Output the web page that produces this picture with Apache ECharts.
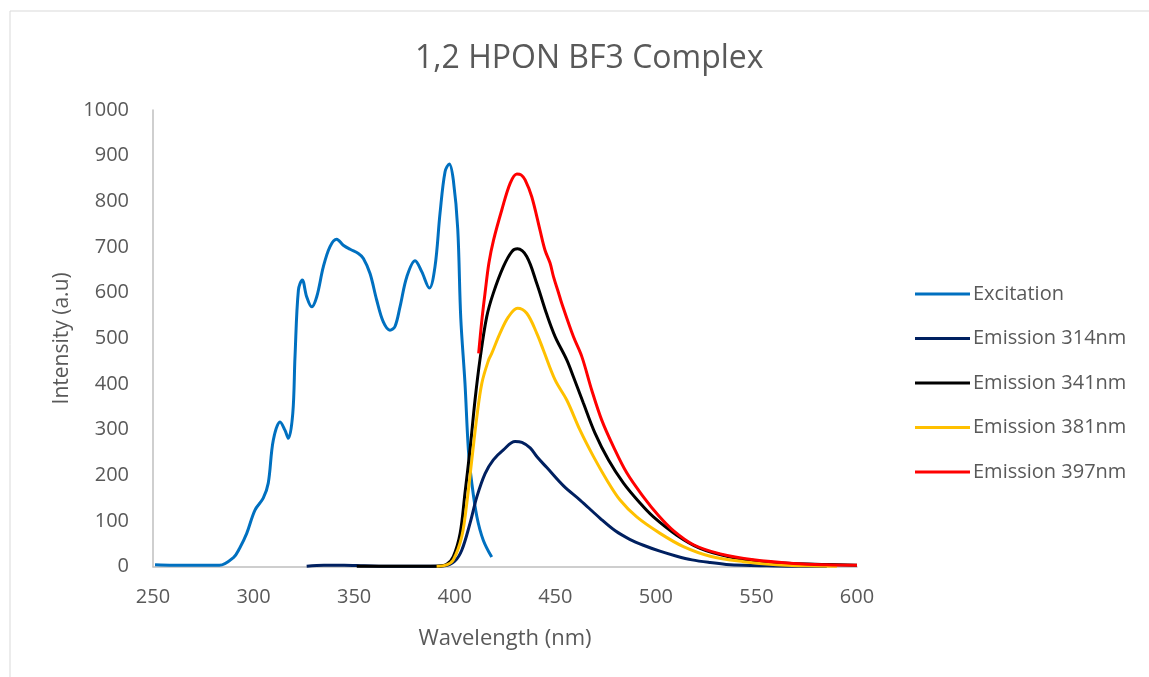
<!DOCTYPE html>
<html>
<head>
<meta charset="utf-8">
<title>1,2 HPON BF3 Complex</title>
<script src="https://cdn.jsdelivr.net/npm/echarts@6/dist/echarts.min.js"></script>
<style>
  html, body { margin: 0; padding: 0; background: #fff; }
  #chart { width: 1149px; height: 677px; }
</style>
</head>
<body>
<div id="chart"></div>
<script>
// Wavelength (nm) / intensity (a.u.) pairs for each spectrum
const excitation = [
  [251, 4], [260, 3], [270, 3], [283, 3], [290, 20], [293, 40], [296.6, 73],
  [300.7, 124], [304.8, 150], [307.3, 183], [309.8, 277], [313.2, 317],
  [315.6, 299], [317.3, 281], [319.5, 336], [320.6, 460], [322.3, 606],
  [324.2, 628], [326.4, 591], [328.9, 569], [331.4, 591], [334.7, 657],
  [338, 701], [341.3, 717], [344.6, 704], [348, 695], [352.1, 686],
  [354.6, 675], [357.9, 642], [361.2, 584], [364.5, 536], [367.8, 518],
  [370.3, 526], [372.8, 569], [376.2, 635], [380.3, 670], [383.6, 646],
  [387.4, 610], [390.2, 657], [392.7, 774], [395.2, 865], [397.3, 882],
  [399.3, 847], [401.5, 740], [403, 545], [405.1, 402], [406.8, 256],
  [408.5, 183], [411, 110], [414.2, 58], [418.4, 21]
];

const emission314 = [
  [326.4, 1], [335, 3], [345, 3], [355, 2], [370, 1], [385, 1], [395, 2],
  [400, 12], [403.5, 36], [407.6, 95], [411, 153], [415.1, 204], [419.2, 234],
  [424.2, 256], [430, 274], [433.4, 272], [437.5, 260], [441, 240],
  [445.8, 217], [454.1, 177], [462.3, 146], [472.3, 106], [480, 78],
  [487, 60], [493.8, 47], [502, 34], [510.4, 23], [518, 15], [527, 9],
  [535, 5], [543.5, 3], [555, 2], [570, 1], [585, 1]
];

const emission341 = [
  [351.3, 1], [365, 1], [380, 1], [391, 1], [396, 5], [399.3, 22],
  [402.7, 73], [405.1, 161], [407.6, 256], [410.1, 365], [412.6, 455],
  [415.9, 547], [419.2, 599], [424.2, 657], [428.4, 690], [431.2, 696],
  [435.8, 679], [440.8, 620], [445.8, 552], [449.9, 504], [455.7, 453],
  [459, 416], [464, 358], [469.8, 292], [476.4, 234], [483.9, 183],
  [492.2, 139], [498.8, 109], [510.4, 69], [522, 40], [535.3, 23],
  [551.8, 12], [568.4, 7], [585, 5], [600, 3]
];

const emission381 = [
  [391, 1], [396, 4], [399.3, 15], [403.5, 66], [406, 139], [408.5, 234],
  [411, 328], [413.5, 402], [416.8, 452], [418.4, 467], [422.5, 511],
  [426.7, 547], [431.2, 566], [435.8, 555], [440.8, 511], [444.1, 474],
  [449.9, 409], [455.7, 365], [462.3, 299], [469, 241], [475.6, 190],
  [482.2, 146], [490.5, 109], [502.1, 73], [513.7, 44], [527, 23],
  [543.5, 11], [560, 4], [575, 2], [590, 1]
];

const emission397 = [
  [411.9, 467], [413.5, 540], [415.1, 600], [417, 665], [419.3, 715],
  [423.4, 781], [427.6, 840], [430.9, 860], [433, 858], [435, 847],
  [438.3, 810], [442.4, 737], [444.9, 693], [447.4, 665], [449.1, 635],
  [451.6, 600], [453.2, 577], [459, 504], [463.2, 460], [468.1, 387],
  [473.1, 321], [478.9, 263], [485.6, 205], [493.8, 153], [501.3, 112],
  [508.7, 79], [518.7, 48], [532, 28], [548.5, 15], [568.4, 7], [585, 4],
  [600, 3]
];

const seriesNames = ['Excitation', 'Emission 314nm', 'Emission 341nm', 'Emission 381nm', 'Emission 397nm'];
const seriesColors = ['#0070C0', '#002060', '#000000', '#FFC000', '#FF0000'];
const seriesData = [excitation, emission314, emission341, emission381, emission397];

const textColor = '#595959';
const fontFamily = '"Open Sans", "Noto Sans", sans-serif';

const chart = echarts.init(document.getElementById('chart'));

chart.setOption({
  backgroundColor: '#ffffff',
  animation: false,
  textStyle: { fontFamily: fontFamily },
  graphic: [{
    type: 'rect',
    shape: { x: 10, y: 11, width: 1150, height: 680 },
    style: { fill: 'none', stroke: '#d9d9d9', lineWidth: 1 },
    silent: true
  }],
  title: {
    text: '1,2 HPON BF3 Complex',
    left: 410,
    top: 38,
    textStyle: { color: textColor, fontSize: 32, fontWeight: 'normal', fontFamily: fontFamily }
  },
  legend: {
    orient: 'vertical',
    left: 910,
    top: 279,
    itemWidth: 55,
    itemHeight: 3,
    itemGap: 24.5,
    icon: 'rect',
    textStyle: { color: textColor, fontSize: 20, lineHeight: 20, fontFamily: fontFamily, padding: [0, 0, 0, -2] },
    data: seriesNames
  },
  grid: { left: 153, right: 292, top: 110, bottom: 110.3, containLabel: false },
  xAxis: {
    type: 'value',
    min: 250,
    max: 600,
    interval: 50,
    name: 'Wavelength (nm)',
    nameLocation: 'middle',
    nameGap: 61,
    nameTextStyle: { color: textColor, fontSize: 22, fontFamily: fontFamily },
    axisLine: { show: true, lineStyle: { color: '#bfbfbf', width: 1.5 } },
    axisTick: { show: false },
    splitLine: { show: false },
    axisLabel: { color: textColor, fontSize: 20, margin: 21, fontFamily: fontFamily }
  },
  yAxis: {
    type: 'value',
    min: 0,
    max: 1000,
    interval: 100,
    name: 'Intensity (a.u)',
    nameLocation: 'middle',
    nameGap: 80,
    nameTextStyle: { color: textColor, fontSize: 21, fontFamily: fontFamily },
    axisLine: { show: true, lineStyle: { color: '#bfbfbf', width: 1.5 } },
    axisTick: { show: false },
    splitLine: { show: false },
    axisLabel: { color: textColor, fontSize: 20, margin: 24, fontFamily: fontFamily, formatter: v => String(v) }
  },
  series: seriesData.map((data, i) => ({
    name: seriesNames[i],
    type: 'line',
    data: data,
    smooth: 0.35,
    showSymbol: false,
    symbol: 'none',
    color: seriesColors[i],
    lineStyle: { color: seriesColors[i], width: 3 },
    z: 2 + i
  }))
});
</script>
</body>
</html>
